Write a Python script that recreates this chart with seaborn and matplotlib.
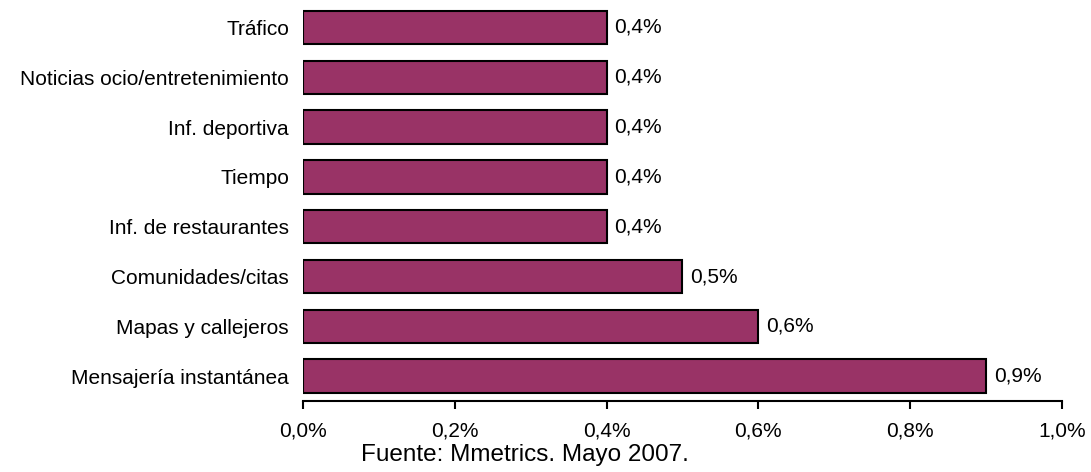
import matplotlib
matplotlib.use("Agg")
import matplotlib.pyplot as plt
import seaborn as sns
import pandas as pd
from matplotlib.ticker import FuncFormatter

categories = [
    "Tráfico",
    "Noticias ocio/entretenimiento",
    "Inf. deportiva",
    "Tiempo",
    "Inf. de restaurantes",
    "Comunidades/citas",
    "Mapas y callejeros",
    "Mensajería instantánea",
]
values = [0.4, 0.4, 0.4, 0.4, 0.4, 0.5, 0.6, 0.9]
x_ticks = [0.0, 0.2, 0.4, 0.6, 0.8, 1.0]
source_note = "Fuente: Mmetrics. Mayo 2007."

sns.set_theme(style="white")
plt.rcParams["font.family"] = ["Liberation Sans", "DejaVu Sans"]

df = pd.DataFrame({"categoria": categories, "valor": values})

fig = plt.figure(figsize=(10.91, 4.72), dpi=100)
ax = fig.add_axes([0.2777, 0.1504, 0.9734 - 0.2777, 0.9945 - 0.1504])

sns.barplot(data=df, y="categoria", x="valor", orient="h", color="#993366",
            saturation=1, edgecolor="black", linewidth=1.5, width=0.67, ax=ax)

ax.set_xlim(0, 1.0)
ax.set_ylim(len(categories) - 0.5, -0.5)
ax.set_xticks(x_ticks)
ax.xaxis.set_major_formatter(FuncFormatter(lambda v, _: f"{v:.1f}%".replace(".", ",")))
ax.set_xlabel("")
ax.set_ylabel("")

for s in ["top", "right", "left"]:
    ax.spines[s].set_visible(False)
ax.spines["bottom"].set_color("black")
ax.spines["bottom"].set_linewidth(1.5)

ax.tick_params(axis="x", which="major", direction="out", length=6, width=1.5,
               color="black", bottom=True, labelsize=15, labelcolor="black", pad=9)
ax.tick_params(axis="y", length=0, labelsize=15, labelcolor="black", pad=10)

for i, v in enumerate(values):
    ax.text(v + 0.01, i, f"{v:.1f}%".replace(".", ","), va="center", ha="left",
            fontsize=15, color="black")

fig.text(0.481, 0.036, source_note, ha="center", va="center", fontsize=17.5, color="black")

fig.savefig("out.png", dpi=100)
